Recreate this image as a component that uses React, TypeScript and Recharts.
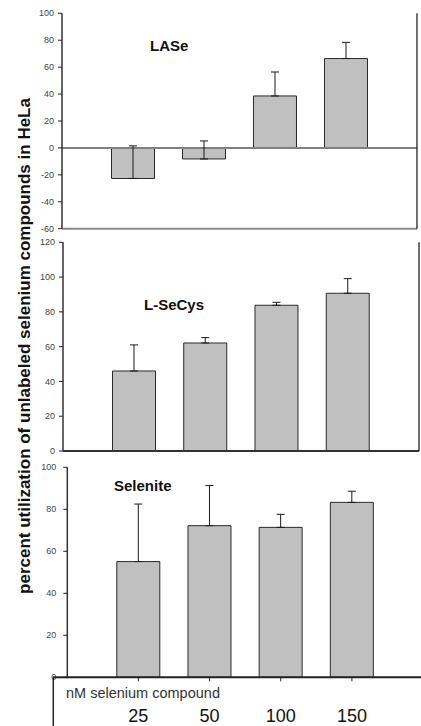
import React from 'react';
import { BarChart, Bar, XAxis, YAxis, ErrorBar, ReferenceLine } from 'recharts';

// nM selenium compound added
const concentrations = ['25', '50', '100', '150'];

// LASe panel
const laseMean = [-22.7, -8.2, 38.6, 66.4];
const laseErr = [24.2, 13.4, 17.8, 12.0];

// L-SeCys panel
const secysMean = [46.0, 62.1, 83.8, 90.7];
const secysErr = [15.0, 3.1, 1.7, 8.4];

// Selenite panel
const seleniteMean = [55.1, 72.2, 71.4, 83.3];
const seleniteErr = [27.4, 19.1, 6.2, 5.3];

const laseTicks = [-60, -40, -20, 0, 20, 40, 60, 80, 100];
const secysTicks = [0, 20, 40, 60, 80, 100, 120];
const seleniteTicks = [0, 20, 40, 60, 80, 100];

const FONT = '"Liberation Sans", Arial, Helvetica, sans-serif';

const buildRows = (means: number[], errs: number[]) =>
    concentrations.map((c, i) => ({ c, v: means[i], e: [0, errs[i]] }));

const tickStyle = { fontSize: 9, fill: '#444', fontFamily: FONT };

const ConcTick = (props: any) => {
    const { x, y, payload } = props;
    return (
        <text x={x} y={y + 38.5} textAnchor="middle" fontSize={18} fill="#111" fontFamily={FONT}>
            {payload.value}
        </text>
    );
};

interface PanelProps {
    rows: { c: string; v: number; e: number[] }[];
    width: number;
    height: number;
    top: number;
    right: number;
    yWidth: number;
    xHeight: number;
    domain: [number, number];
    ticks: number[];
    tickMargin: number;
    baseStroke: string;
    zeroLine?: boolean;
    showLabels?: boolean;
}

const Panel: React.FC<PanelProps> = ({
    rows, width, height, top, right, yWidth, xHeight, domain, ticks, tickMargin, baseStroke, zeroLine, showLabels,
}) => {
    return (
        <BarChart width={width} height={height} data={rows} margin={{ top, right, bottom: 0, left: 0 }}>
            <XAxis
                dataKey="c"
                type="category"
                height={xHeight}
                padding={{ left: 35.5, right: 35.5 }}
                axisLine={{ stroke: baseStroke, strokeWidth: 2 }}
                tickLine={{ stroke: '#222' }}
                tickSize={4}
                tick={showLabels ? <ConcTick /> : false}
                interval={0}
            />
            <XAxis
                xAxisId="top"
                orientation="top"
                dataKey="c"
                type="category"
                height={0}
                tick={false}
                tickLine={false}
                axisLine={{ stroke: '#111', strokeWidth: 1 }}
            />
            <YAxis
                domain={domain}
                ticks={ticks}
                width={yWidth}
                interval={0}
                tickSize={4}
                tickMargin={tickMargin}
                tick={tickStyle}
                tickLine={{ stroke: '#222' }}
                axisLine={{ stroke: '#333', strokeWidth: 1.5 }}
            />
            <YAxis
                yAxisId="right"
                orientation="right"
                type="number"
                domain={[0, 1]}
                ticks={[0, 1]}
                width={0.01}
                tick={false}
                tickLine={false}
                axisLine={{ stroke: '#111', strokeWidth: 1.2 }}
            />
            {zeroLine && <ReferenceLine y={0} stroke="#808080" strokeWidth={2} />}
            <Bar dataKey="v" fill="#c0c0c0" stroke="#2a2a2a" strokeWidth={1} barSize={43} isAnimationActive={false}>
                <ErrorBar dataKey="e" direction="y" width={4} stroke="#1a1a1a" strokeWidth={1} />
            </Bar>
        </BarChart>
    );
};

export default function App() {
    return (
        <div
            style={{
                position: 'absolute', left: 0, top: 0, width: 421, height: 726,
                overflow: 'hidden', background: '#fff', fontFamily: FONT,
            }}
        >
            <div style={{ position: 'absolute', left: 0, top: 0 }}>
                <Panel
                    rows={buildRows(laseMean, laseErr)}
                    width={421} height={240} top={13.3} right={4}
                    yWidth={62} xHeight={11.3}
                    domain={[-60, 100]} ticks={laseTicks} tickMargin={4}
                    baseStroke="#8a8a8a" zeroLine
                />
            </div>
            <div style={{ position: 'absolute', left: 0, top: 232 }}>
                <Panel
                    rows={buildRows(secysMean, secysErr)}
                    width={421} height={230} top={10.3} right={2}
                    yWidth={63} xHeight={11}
                    domain={[0, 120]} ticks={secysTicks} tickMargin={4}
                    baseStroke="#333"
                />
            </div>
            <div style={{ position: 'absolute', left: 0, top: 460 }}>
                <Panel
                    rows={buildRows(seleniteMean, seleniteErr)}
                    width={425} height={266} top={7.3} right={2}
                    yWidth={67.3} xHeight={48.7}
                    domain={[0, 100]} ticks={seleniteTicks} tickMargin={7}
                    baseStroke="#222" showLabels
                />
            </div>
            <svg
                width={421}
                height={726}
                style={{ position: 'absolute', left: 0, top: 0, pointerEvents: 'none' }}
            >
                <text
                    x={30}
                    y={346}
                    transform="rotate(-90, 30, 346)"
                    textAnchor="middle"
                    fontSize={17}
                    fontWeight="bold"
                    fill="#111"
                    fontFamily={FONT}
                >
                    percent utilization of unlabeled selenium compounds in HeLa
                </text>
                <text x={150} y={50.7} fontSize={15} fontWeight="bold" fill="#111" fontFamily={FONT}>LASe</text>
                <text x={144} y={309.5} fontSize={15} fontWeight="bold" fill="#111" fontFamily={FONT}>L-SeCys</text>
                <text x={114} y={491} fontSize={15} fontWeight="bold" fill="#111" fontFamily={FONT}>Selenite</text>
                <text x={66} y={698} fontSize={14.5} fill="#333" fontFamily={FONT}>nM selenium compound</text>
                <line x1={53} y1={677.3} x2={68} y2={677.3} stroke="#222" strokeWidth={2} />
                <line x1={53.3} y1={677} x2={53.3} y2={726} stroke="#222" strokeWidth={1.5} />
            </svg>
        </div>
    );
}
